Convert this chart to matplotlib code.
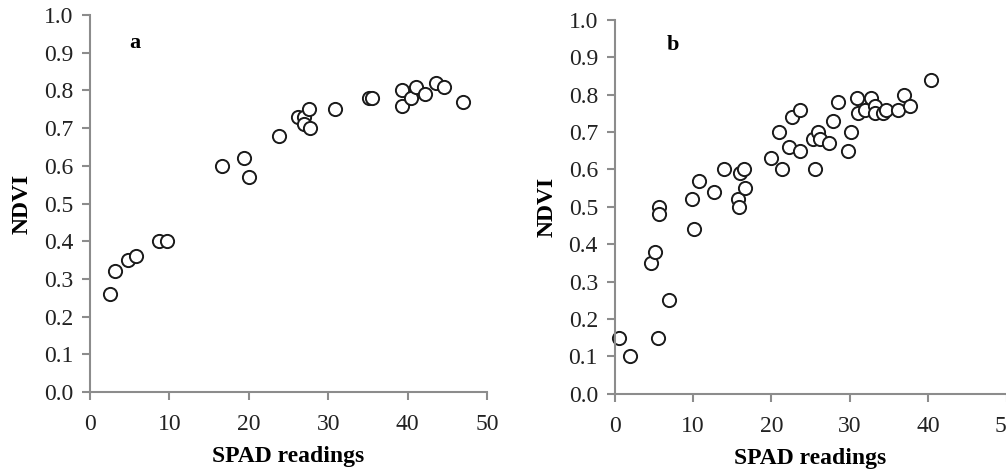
import numpy as np
import matplotlib
matplotlib.use('Agg')
import matplotlib.pyplot as plt

# panel a: SPAD readings vs NDVI
spad_a = [2.5, 3.2, 4.8, 5.8, 8.7, 9.7, 16.6, 19.4, 20.0, 23.8, 26.2, 26.9, 27.0,
          27.7, 27.6, 30.8, 35.1, 35.5, 39.3, 39.3, 40.4, 41.1, 42.2, 43.6, 44.6, 47.0]
ndvi_a = [0.26, 0.32, 0.35, 0.36, 0.40, 0.40, 0.60, 0.62, 0.57, 0.68, 0.73, 0.73, 0.71,
          0.70, 0.75, 0.75, 0.78, 0.78, 0.80, 0.76, 0.78, 0.81, 0.79, 0.82, 0.81, 0.77]

# panel b
spad_b = [0.5, 2.0, 4.7, 5.2, 5.5, 6.9, 5.6, 5.7, 10.1, 9.9, 10.7, 12.7, 14.0, 15.8,
          15.9, 16.0, 16.5, 16.6, 19.9, 21.4, 21.0, 22.2, 22.6, 23.6, 23.6, 25.5, 25.3,
          26.0, 26.2, 27.4, 27.8, 28.5, 30.1, 29.8, 30.9, 31.1, 32.0, 32.7, 33.2, 33.2,
          34.3, 34.6, 36.1, 36.9, 37.7, 40.4]
ndvi_b = [0.15, 0.10, 0.35, 0.38, 0.15, 0.25, 0.50, 0.48, 0.44, 0.52, 0.57, 0.54, 0.60, 0.52,
          0.50, 0.59, 0.60, 0.55, 0.63, 0.60, 0.70, 0.66, 0.74, 0.76, 0.65, 0.60, 0.68,
          0.70, 0.68, 0.67, 0.73, 0.78, 0.70, 0.65, 0.79, 0.75, 0.76, 0.79, 0.77, 0.75,
          0.75, 0.76, 0.76, 0.80, 0.77, 0.84]

panels = [('a', spad_a, ndvi_a, (5.7, 0.926), [0.0895, 0.166, 0.3945, 0.802]),
          ('b', spad_b, ndvi_b, (7.4, 0.933), [0.611, 0.162, 0.3895, 0.796])]

plt.rcParams['font.family'] = 'Liberation Serif'
axis_grey = '#8c8c8c'

fig = plt.figure(figsize=(10.06, 4.70), dpi=100)
for name, x, y, lab_pos, rect in panels:
    ax = fig.add_axes(rect)
    ax.plot(x, y, linestyle='None', marker='o', markersize=9.5, markerfacecolor='white',
            markeredgecolor='#1a1a1a', markeredgewidth=1.4, clip_on=False)
    ax.set_xlim(0, 50)
    ax.set_ylim(0, 1.0)
    ax.set_xticks(np.arange(0, 51, 10))
    ax.set_yticks(np.arange(0, 1.01, 0.1))
    ax.set_yticklabels(['%.1f' % v for v in np.arange(0, 1.01, 0.1)])
    for s in ['top', 'right']:
        ax.spines[s].set_visible(False)
    for s in ['left', 'bottom']:
        ax.spines[s].set_color(axis_grey)
        ax.spines[s].set_linewidth(1.5)
    ax.tick_params(direction='out', length=6, width=1.5, color=axis_grey,
                   labelsize=17, labelcolor='#222222', pad=6)
    ax.tick_params(axis='x', pad=10)
    ax.set_xlabel('SPAD readings', fontsize=17, fontweight='bold', labelpad=8)
    ax.set_ylabel('NDVI', fontsize=17, fontweight='bold', labelpad=8)
    ax.text(lab_pos[0], lab_pos[1], name, fontsize=16, fontweight='bold',
            ha='center', va='center')

fig.savefig('out.png', dpi=100)
